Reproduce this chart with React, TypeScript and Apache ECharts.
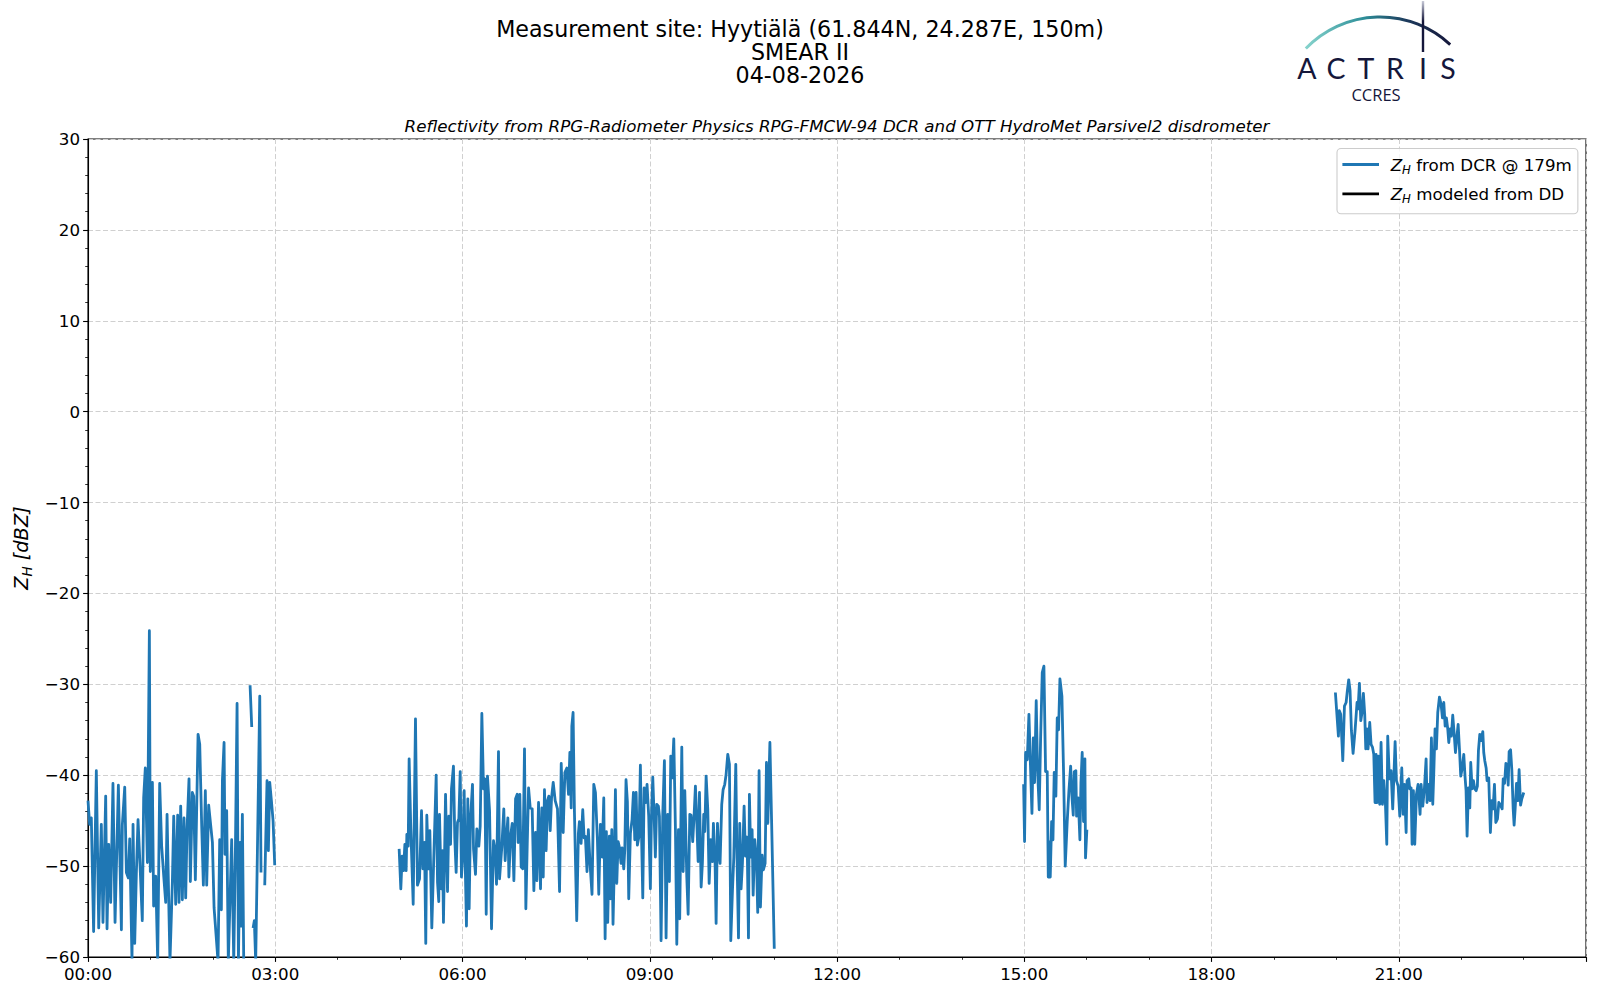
import React, { useEffect, useRef } from 'react';
import * as echarts from 'echarts';

const FONT = "'DejaVu Sans', sans-serif";

const TITLE_LINES = ['Measurement site: Hyytiälä (61.844N, 24.287E, 150m)', 'SMEAR II', '04-08-2026'];
const SUBTITLE = 'Reflectivity from RPG-Radiometer Physics RPG-FMCW-94 DCR and OTT HydroMet Parsivel2 disdrometer';
const LEGEND_LABELS: Record<string, string> = {
  DCR: '{z|Z}{h|H}{t|from DCR @ 179m}',
  DD: '{z|Z}{h|H}{t|modeled from DD}',
};
const Y_NAME = '{z|Z}{h|H}{t|[dBZ]}';

// [minutes since 00:00, dBZ]; null = gap
const seg1 = [
  [0, -42.8], [1.6, -45.4], [3.2, -44.7], [5.4, -57.2], [8.0, -39.5], [10.3, -56.8], [12.8, -45.4], [14.4, -56.2],
  [17.0, -42.3], [18.3, -56.9], [19.9, -47.6], [21.8, -54.0], [24.0, -40.9], [26.0, -56.2], [29.2, -41.1], [32.1, -57.0],
  [33.0, -45.5], [35.3, -41.3], [36.9, -50.7], [38.8, -51.3], [40.1, -47.0], [42.3, -60.5], [43.3, -45.4], [44.9, -58.5],
  [46.5, -50.7], [48.1, -44.9], [50.3, -50.7], [52.2, -56.0], [53.5, -42.5], [55.1, -39.2], [57.1, -49.6], [59.0, -24.1],
  [59.9, -50.6], [61.9, -40.8], [63.1, -54.4], [65.1, -51.1], [67.0, -60.5], [68.9, -40.9], [70.8, -47.8], [72.8, -51.1],
  [74.7, -54.0], [76.0, -44.3], [77.9, -55.5], [78.8, -60.5], [81.1, -51.8], [82.4, -44.5], [84.3, -54.2], [86.2, -44.4],
  [87.5, -54.0], [89.1, -43.4], [90.7, -53.7], [92.3, -44.7], [93.9, -53.5], [95.2, -46.0], [97.1, -40.4], [98.4, -51.7],
  [100.3, -41.9], [101.6, -42.3], [103.2, -51.5], [104.8, -41.7], [105.8, -35.5], [107.4, -36.6], [109.3, -45.6], [110.9, -52.1],
  [112.8, -41.7], [114.1, -52.1], [116.0, -43.3], [119.6, -47.4], [121.2, -54.6], [125.0, -60.5], [126.6, -47.1], [128.2, -54.8],
  [129.2, -40.6], [130.8, -36.4], [131.7, -48.7], [133.3, -43.9], [134.9, -60.5], [138.1, -47.1], [140.1, -60.5], [141.7, -48.2],
  [143.3, -32.1], [144.6, -60.5], [146.2, -47.4], [147.1, -56.6], [148.4, -44.3], [149.7, -60.5], [151, null],
  [155.8, -30.1], [157.4, -34.7], [158, null],
  [158.7, -56.8], [159.9, -56.0], [161.2, -60.5], [163.1, -46.5], [165.1, -31.3], [166.3, -50.7], [168, null],
  [169.9, -52.1], [172.1, -40.6], [173.4, -48.3], [174.7, -40.8], [176.3, -42.8], [177.9, -45.0], [179.5, -49.9],
];

const seg2 = [
  [299.1, -48.1], [300.7, -52.5], [302.0, -48.9], [303.3, -50.5], [304.6, -47.6], [305.8, -50.5], [306.5, -46.5], [307.8, -47.8],
  [308.7, -38.2], [310.3, -45.9], [312.6, -54.2], [314.8, -33.8], [316.7, -52.1], [318.7, -51.4], [320.6, -43.9], [321.9, -50.3],
  [323.5, -47.4], [324.7, -58.5], [325.7, -44.4], [327.3, -50.3], [328.6, -46.1], [330.5, -56.8], [332.1, -50.3], [334.7, -40.0],
  [336.0, -51.8], [337.2, -53.9], [337.9, -44.3], [339.5, -52.5], [340.8, -48.3], [341.7, -56.2], [343.7, -42.1], [345.6, -52.8],
  [346.9, -44.5], [348.5, -47.6], [349.4, -41.5], [351.3, -39.0], [352.6, -47.0], [353.9, -50.7], [355.2, -45.2], [356.5, -44.8],
  [357.8, -39.6], [359.0, -51.2], [360.3, -48.9], [361.6, -41.7], [362.9, -51.4], [363.8, -56.6], [365.1, -42.6], [366.4, -54.7],
  [367.7, -44.8], [369.6, -41.0], [370.6, -48.1], [372.5, -50.9], [373.8, -45.9], [375.7, -47.8], [377.0, -45.6], [378.6, -33.2],
  [380.2, -41.5], [381.5, -40.4], [382.8, -55.3], [384.0, -40.1], [386.0, -43.9], [387.9, -56.9], [389.8, -47.2], [391.4, -48.3],
  [392.7, -52.0], [394.6, -37.4], [395.6, -51.4], [397.8, -47.9], [399.7, -43.7], [401.0, -49.4], [402.3, -46.8], [403.6, -44.7],
  [404.6, -51.2], [406.2, -46.7], [407.8, -45.3], [409.4, -51.6], [411.0, -42.6], [412.6, -42.1], [413.5, -47.4], [415.1, -42.1],
  [416.4, -50.1], [418.0, -50.3], [419.6, -37.1], [420.9, -54.7], [422.2, -47.8], [423.5, -41.4], [425.1, -43.6], [427.0, -43.7],
  [428.6, -52.7], [430.2, -46.3], [431.5, -51.6], [433.1, -43.0], [435.0, -52.5], [436.3, -43.6], [437.6, -51.2], [438.8, -41.6],
  [440.4, -48.3], [441.7, -42.8], [443.0, -42.3], [444.3, -46.1], [445.6, -42.5], [447.2, -40.8], [449.1, -42.8], [451.3, -43.7],
  [453.3, -52.8], [454.9, -38.7], [456.8, -46.3], [458.4, -39.7], [460.3, -39.2], [461.9, -42.1], [463.2, -37.5], [464.5, -43.6],
  [465.1, -34.6], [466.3, -33.1], [467.6, -44.0], [469.8, -56.0], [471.4, -46.4], [472.4, -45.1], [474.0, -47.5], [475.6, -43.8],
  [476.9, -46.9], [478.1, -46.7], [479.7, -50.6], [481.0, -46.0], [482.6, -49.7], [484.5, -53.1], [486.2, -41.0], [487.8, -41.9],
  [489.7, -47.1], [491.0, -53.1], [492.6, -45.4], [494.2, -49.0], [495.8, -42.5], [497.1, -58.0], [498.3, -46.2], [499.6, -56.2],
  [501.2, -46.7], [502.2, -53.6], [503.5, -46.0], [504.7, -56.4], [505.7, -51.2], [507.0, -41.6], [508.3, -51.9], [509.6, -47.3],
  [510.8, -47.9], [512.4, -49.7], [513.4, -48.0], [515.0, -50.3], [516.0, -48.2], [517.2, -40.5], [518.5, -42.9], [519.8, -53.6],
  [521.4, -46.4], [523.0, -44.9], [524.3, -41.9], [525.6, -47.1], [526.9, -41.9], [528.1, -47.7], [529.7, -46.7], [531.0, -38.9],
  [532.0, -46.0], [533.3, -53.5], [534.6, -41.4], [536.2, -43.0], [537.4, -41.0], [539.0, -44.5], [540.6, -52.5], [541.6, -44.7],
  [542.9, -40.2], [544.2, -44.5], [545.4, -49.0], [546.7, -43.2], [548.3, -43.4], [549.3, -44.5], [550.9, -58.2], [552.5, -44.3],
  [554.1, -38.4], [555.7, -57.9], [557.3, -44.3], [558.9, -51.7], [560.2, -37.9], [561.5, -40.3], [563.1, -36.0], [564.7, -46.0],
  [566.0, -58.6], [567.6, -46.0], [568.8, -55.8], [570.8, -36.9], [572.1, -50.6], [573.7, -41.7], [575.6, -51.2], [576.9, -55.3],
  [578.5, -44.3], [579.7, -44.4], [581.3, -47.3], [582.6, -44.5], [583.9, -41.2], [585.5, -46.0], [586.5, -49.5], [587.8, -41.9],
  [589.4, -52.3], [590.6, -49.7], [591.9, -44.3], [592.9, -46.2], [594.2, -40.1], [595.8, -43.8], [597.1, -51.9], [598.7, -47.1],
  [600.3, -49.5], [601.2, -45.3], [602.8, -49.7], [603.8, -56.3], [605.1, -45.3], [606.0, -47.9], [607.6, -49.7], [609.2, -43.2],
  [610.5, -41.6], [612.1, -41.0], [613.4, -39.9], [615.0, -37.7], [616.6, -38.8], [617.9, -58.2], [619.5, -52.7], [620.8, -49.0],
  [622.7, -38.8], [623.7, -47.9], [625.3, -57.9], [626.5, -45.3], [627.8, -52.5], [629.1, -49.7], [630.7, -43.4], [632.0, -48.9],
  [633.6, -46.8], [634.9, -57.9], [635.8, -42.1], [637.1, -49.0], [638.4, -46.0], [639.4, -53.2], [641.0, -47.1], [642.6, -49.3],
  [643.8, -55.1], [645.1, -39.5], [646.4, -54.5], [648.0, -48.8], [649.3, -50.4], [650.9, -49.7], [652.2, -38.6], [653.5, -45.3],
  [655.5, -36.4], [657.1, -44.9], [659.7, -59.1],
];

const seg3 = [
  [899.4, -41.0], [900.3, -47.3], [901.3, -37.5], [902.9, -38.3], [904.5, -33.3], [905.8, -38.3], [907.4, -44.2], [908.7, -35.9],
  [909.9, -40.8], [911.5, -31.8], [912.8, -39.4], [914.4, -43.8], [915.7, -36.1], [917.3, -28.7], [918.9, -28.0], [920.5, -39.6],
  [922.1, -39.6], [923.1, -51.2], [924.0, -47.3], [925.0, -51.2], [926.3, -45.1], [927.6, -47.1], [928.8, -39.7], [930.4, -42.3],
  [931.7, -33.7], [933.0, -35.0], [934.3, -29.4], [936.2, -31.3], [937.8, -39.7], [939.4, -50.0], [941.3, -45.1], [942.9, -41.8],
  [944.6, -39.0], [945.8, -42.3], [947.1, -44.4], [948.1, -39.6], [949.6, -39.5], [950.3, -44.5], [951.9, -42.5], [953.5, -47.1],
  [954.5, -40.8], [955.7, -37.5], [957.0, -45.1], [958.3, -38.2], [958.9, -49.1], [960.2, -46.0],
];

const seg4 = [
  [1199.1, -30.9], [1200.3, -32.9], [1202.0, -35.7], [1202.9, -32.9], [1204.2, -33.3], [1206.2, -38.4], [1207.8, -32.4], [1209.4, -32.0],
  [1210.6, -30.7], [1211.9, -29.5], [1213.2, -30.7], [1214.5, -35.1], [1216.1, -37.6], [1218.0, -35.1], [1219.9, -32.0], [1220.9, -32.7],
  [1222.2, -29.9], [1223.5, -34.0], [1224.7, -33.1], [1226.0, -31.0], [1227.3, -33.3], [1228.3, -37.1], [1229.6, -34.9], [1230.5, -37.1],
  [1232.1, -34.2], [1233.4, -36.6], [1234.7, -36.9], [1236.0, -37.7], [1237.2, -43.0], [1238.2, -37.7], [1239.2, -43.0], [1240.4, -37.9],
  [1241.7, -43.2], [1243.0, -36.4], [1244.3, -43.2], [1245.6, -40.6], [1247.2, -43.2], [1248.5, -47.6], [1249.4, -35.7], [1251.0, -40.4],
  [1252.6, -39.5], [1254.2, -43.7], [1256.5, -36.3], [1257.8, -40.6], [1259.4, -41.2], [1261.0, -44.5], [1262.9, -39.2], [1264.2, -44.3],
  [1265.4, -41.0], [1267.1, -46.3], [1268.0, -40.6], [1269.6, -40.4], [1270.6, -41.5], [1271.9, -41.4], [1272.8, -47.6], [1274.1, -41.7],
  [1275.4, -47.6], [1277.0, -42.1], [1278.6, -41.0], [1280.5, -44.3], [1281.5, -41.0], [1283.1, -43.4], [1284.7, -41.4], [1286.3, -38.2],
  [1287.2, -43.0], [1288.8, -41.0], [1290.1, -42.8], [1291.4, -35.9], [1292.7, -43.2], [1293.7, -39.7], [1294.9, -34.9], [1296.2, -37.1],
  [1297.5, -33.1], [1299.1, -31.4], [1300.7, -32.2], [1302.0, -33.7], [1303.3, -32.0], [1304.6, -34.6], [1305.8, -33.7], [1307.1, -34.9],
  [1308.1, -36.4], [1309.4, -34.9], [1310.6, -35.7], [1311.9, -33.4], [1313.2, -35.3], [1314.5, -37.5], [1315.8, -35.9], [1317.1, -34.4],
  [1318.3, -37.0], [1319.6, -40.1], [1320.9, -39.3], [1322.5, -37.7], [1323.8, -40.3], [1324.7, -41.7], [1325.7, -46.7], [1327.0, -41.4],
  [1328.3, -43.6], [1329.2, -38.6], [1330.5, -41.5], [1331.8, -40.6], [1333.1, -41.5], [1334.4, -41.7], [1335.6, -41.2], [1336.6, -37.3],
  [1337.9, -35.5], [1339.2, -36.2], [1340.8, -35.2], [1341.7, -37.5], [1342.7, -38.4], [1344.0, -39.2], [1344.9, -40.6], [1346.5, -40.3],
  [1348.1, -46.3], [1349.4, -42.8], [1350.7, -43.7], [1352.0, -41.0], [1353.3, -45.2], [1354.9, -44.8], [1356.2, -43.0], [1357.8, -43.3],
  [1359.4, -43.7], [1360.4, -40.4], [1361.7, -40.9], [1363.0, -38.7], [1364.2, -38.9], [1365.2, -41.1], [1366.1, -37.4], [1367.5, -37.2],
  [1368.7, -39.4], [1370.0, -43.7], [1370.9, -45.5], [1371.9, -43.7], [1373.2, -40.9], [1374.5, -42.8], [1375.7, -39.4], [1377.1, -43.3],
  [1378.3, -42.6], [1380.2, -41.9],
];

const modeledDD: number[][] = [];

function fmtTime(v: number): string {
  const h = Math.floor(v / 60);
  const m = Math.round(v - h * 60);
  return String(h).padStart(2, '0') + ':' + String(m).padStart(2, '0');
}
function fmtY(v: number): string {
  return v < 0 ? '\u2212' + Math.abs(v) : String(v);
}

const NAVY = '#15173b';

export default function App() {
  const ref = useRef<HTMLDivElement>(null);
  useEffect(() => {
    if (!ref.current) return;
    const chart = echarts.init(ref.current, undefined, { renderer: 'svg' });
    const dcrData = [...seg1, [240, null], ...seg2, [780, null], ...seg3, [1080, null], ...seg4];

    const legendRich = {
      z: { fontFamily: FONT, fontStyle: 'italic', fontSize: 16.7, lineHeight: 22, color: '#000' },
      h: { fontFamily: FONT, fontStyle: 'italic', fontSize: 11.7, lineHeight: 12, padding: [10, 0, 0, 0], color: '#000' },
      t: { fontFamily: FONT, fontSize: 16.7, lineHeight: 22, padding: [0, 0, 0, 5.3], color: '#000' },
    };
    const yNameRich = {
      z: { fontFamily: FONT, fontStyle: 'italic', fontSize: 19.4, lineHeight: 25, color: '#000' },
      h: { fontFamily: FONT, fontStyle: 'italic', fontSize: 13.6, lineHeight: 14, padding: [11, 0, 0, 0], color: '#000' },
      t: { fontFamily: FONT, fontStyle: 'italic', fontSize: 19.4, lineHeight: 25, padding: [0, 0, 0, 6], color: '#000' },
    };

    const letters = ['A', 'C', 'T', 'R', 'I', 'S'];
    const letterX = [1307, 1336, 1366, 1395, 1423, 1448];

    chart.setOption({
      animation: false,
      backgroundColor: '#ffffff',
      title: {
        text: TITLE_LINES.join('\n'),
        left: 'center',
        top: 17,
        padding: 0,
        textStyle: { fontFamily: FONT, fontSize: 22.2, fontWeight: 'normal', color: '#000', lineHeight: 23 },
      },
      grid: { left: 88, top: 139, width: 1498, height: 818, show: true, borderColor: '#000', borderWidth: 1.1, backgroundColor: 'transparent' },
      legend: {
        orient: 'vertical',
        left: 1337,
        top: 148.5,
        padding: [5, 6, 9, 4],
        itemWidth: 36.6,
        itemHeight: 20,
        itemGap: 7.3,
        backgroundColor: 'rgba(255,255,255,0.8)',
        borderColor: '#cccccc',
        borderWidth: 1.1,
        borderRadius: 4,
        data: ['DCR', 'DD'],
        itemStyle: { color: 'rgba(0,0,0,0)', borderWidth: 0, opacity: 0 },
        lineStyle: { width: 2.8 },
        formatter: (name: string) => LEGEND_LABELS[name],
        textStyle: { fontFamily: FONT, fontSize: 16.7, color: '#000', padding: [0, 0, 0, 6.7], rich: legendRich },
      },
      xAxis: {
        type: 'value',
        min: 0,
        max: 1440,
        interval: 180,
        axisLine: { show: true, onZero: false, lineStyle: { color: '#000', width: 1.1 } },
        axisTick: { show: true, length: 4.9, lineStyle: { color: '#000', width: 1.1 } },
        minorTick: { show: true, splitNumber: 3, length: 2.8, lineStyle: { color: '#000', width: 0.8 } },
        splitLine: { show: true, lineStyle: { color: '#d0d0d0', width: 1, type: [5, 2.5] } },
        axisLabel: { formatter: fmtTime, showMaxLabel: false, margin: 8, fontFamily: FONT, fontSize: 16.7, color: '#000' },
      },
      yAxis: {
        type: 'value',
        min: -60,
        max: 30,
        interval: 10,
        name: Y_NAME,
        nameLocation: 'middle',
        nameRotate: 90,
        nameGap: 53,
        nameTextStyle: { rich: yNameRich },
        axisLine: { show: true, onZero: false, lineStyle: { color: '#000', width: 1.1 } },
        axisTick: { show: true, length: 4.9, lineStyle: { color: '#000', width: 1.1 } },
        minorTick: { show: true, splitNumber: 5, length: 2.8, lineStyle: { color: '#000', width: 0.8 } },
        splitLine: { show: true, lineStyle: { color: '#d0d0d0', width: 1, type: [5, 2.5] } },
        axisLabel: { formatter: fmtY, margin: 8, fontFamily: FONT, fontSize: 16.7, color: '#000' },
      },
      series: [
        {
          name: 'DCR',
          type: 'line',
          data: dcrData,
          symbol: 'none',
          showSymbol: false,
          connectNulls: false,
          clip: true,
          lineStyle: { color: '#1f77b4', width: 2.8, join: 'round' },
          itemStyle: { color: '#1f77b4' },
        },
        {
          name: 'DD',
          type: 'line',
          data: modeledDD,
          symbol: 'none',
          showSymbol: false,
          lineStyle: { color: '#000000', width: 2.8 },
          itemStyle: { color: '#000000' },
        },
      ],
      graphic: [
        {
          type: 'text',
          x: 837,
          y: 125.5,
          style: {
            text: SUBTITLE,
            fontFamily: FONT,
            fontSize: 16.7,
            fontStyle: 'italic',
            fill: '#000',
            textAlign: 'center',
            textVerticalAlign: 'middle',
          },
        },
        {
          type: 'arc',
          shape: { cx: 1380, cy: 120, r: 103, startAngle: -2.375, endAngle: -0.821, clockwise: true },
          style: {
            fill: 'none',
            lineWidth: 3,
            stroke: new echarts.graphic.LinearGradient(0, 0, 1, 0, [
              { offset: 0, color: '#86d3cc' },
              { offset: 0.4, color: '#2e8f99' },
              { offset: 0.7, color: '#1d3a5c' },
              { offset: 1, color: NAVY },
            ]),
          },
        },
        {
          type: 'rect',
          shape: { x: 1421.8, y: 1, width: 2.4, height: 51 },
          style: {
            fill: new echarts.graphic.LinearGradient(0, 0, 0, 1, [
              { offset: 0, color: '#c8cad8' },
              { offset: 0.4, color: NAVY },
              { offset: 1, color: NAVY },
            ]),
          },
        },
        ...letters.map((ch, i) => ({
          type: 'text',
          x: letterX[i],
          y: 67.5,
          style: {
            text: ch,
            fontFamily: 'Lato, sans-serif',
            fontSize: 28.5,
            lineHeight: 22,
            fill: NAVY,
            textAlign: 'center',
            textVerticalAlign: 'middle',
          },
        })),
        {
          type: 'text',
          x: 1376,
          y: 94.5,
          style: {
            text: 'CCRES',
            fontFamily: "'Open Sans', sans-serif",
            fontSize: 16.5,
            lineHeight: 16,
            fill: NAVY,
            textAlign: 'center',
            textVerticalAlign: 'middle',
          },
        },
      ],
    });
    return () => chart.dispose();
  }, []);
  return (
    <div
      ref={ref}
      style={{ position: 'fixed', left: 0, top: 0, width: 1600, height: 1000, background: '#fff' }}
    />
  );
}
